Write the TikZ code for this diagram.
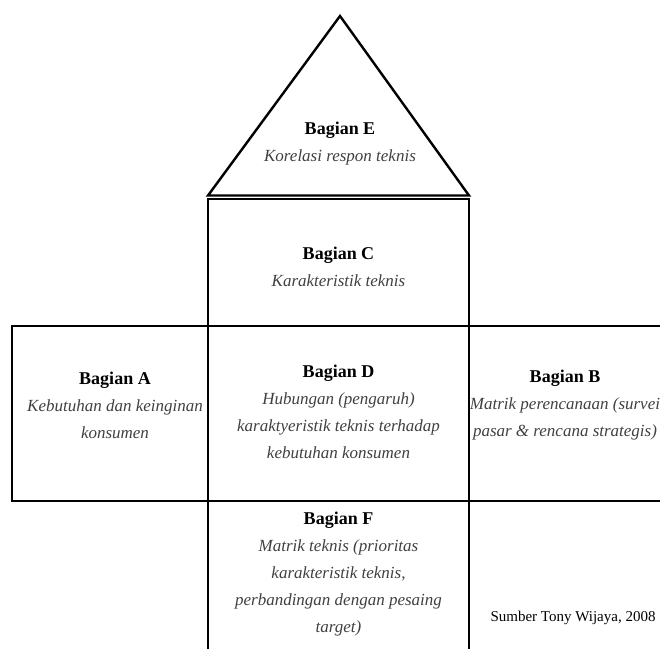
\documentclass[tikz,border=0pt]{standalone}
\usepackage{fontspec}
\setmainfont{Liberation Serif}
\usetikzlibrary{calc}
\usetikzlibrary{positioning}
\tikzstyle{partbox} = [draw, rectangle, line width=2.4pt, inner sep=0, outer sep=0]
\tikzstyle{roofline} = [draw, line width=2.4pt, line join=miter]
\tikzstyle{parttext} = [align=center, inner sep=0, font=\fontsize{17}{27}\selectfont]
\tikzstyle{sourcenote} = [inner sep=0, font=\fontsize{15}{18}\selectfont]
\newcommand{\bagtitle}[1]{{\fontsize{18}{27}\selectfont\textbf{#1}}}
\newcommand{\bagdesc}[1]{\textcolor{black!75}{\textit{#1}}}

\begin{document}
\begin{tikzpicture}[x=1pt, y=-1pt]
    \useasboundingbox (0,0) rectangle (660,648);
    \clip (0,0) rectangle (660,648);

    % house of quality blocks
    \node[partbox, minimum width=261, minimum height=127] (partC) at (338.5,262.5) {};
    \node[partbox, minimum width=261, minimum height=175, below=0pt of partC] (partD) {};
    \node[partbox, minimum width=196, minimum height=175, left=0pt of partD] (partA) {};
    \node[partbox, minimum width=221, minimum height=175, right=0pt of partD] (partB) {};
    \node[partbox, minimum width=261, minimum height=180, below=0pt of partD] (partF) {};

    % roof
    \coordinate (roof) at (340,16);
    \draw[roofline] ($(partC.north west)+(0,-3.5)$) -- (roof) -- ($(partC.north east)+(0,-3.5)$) -- cycle;

    \node[parttext] (textE) at (340,144) {\bagtitle{Bagian E}\\ \bagdesc{Korelasi respon teknis}};
    \node[parttext] (textC) at ($(partC.center)+(0,4.5)$) {\bagtitle{Bagian C}\\ \bagdesc{Karakteristik teknis}};
    \node[parttext] (textA) at ($(partA.center)+(5,-8.5)$) {\bagtitle{Bagian A}\\ \bagdesc{Kebutuhan dan keinginan}\\ \bagdesc{konsumen}};
    \node[parttext] (textD) at ($(partD.center)+(0,-1.5)$) {\bagtitle{Bagian D}\\ \bagdesc{Hubungan (pengaruh)}\\ \bagdesc{karaktyeristik teknis terhadap}\\ \bagdesc{kebutuhan konsumen}};
    \node[parttext] (textB) at ($(partB.center)+(-14.5,-8.5)$) {\bagtitle{Bagian B}\\ \bagdesc{Matrik perencanaan (survei}\\ \bagdesc{pasar \&\ rencana strategis)}};
    \node[parttext] (textF) at ($(partF.center)+(0,-17)$) {\bagtitle{Bagian F}\\ \bagdesc{Matrik teknis (prioritas}\\ \bagdesc{karakteristik teknis,}\\ \bagdesc{perbandingan dengan pesaing}\\ \bagdesc{target)}};

    \node[sourcenote] (source) at (573,618) {Sumber Tony Wijaya, 2008};
\end{tikzpicture}
\end{document}
